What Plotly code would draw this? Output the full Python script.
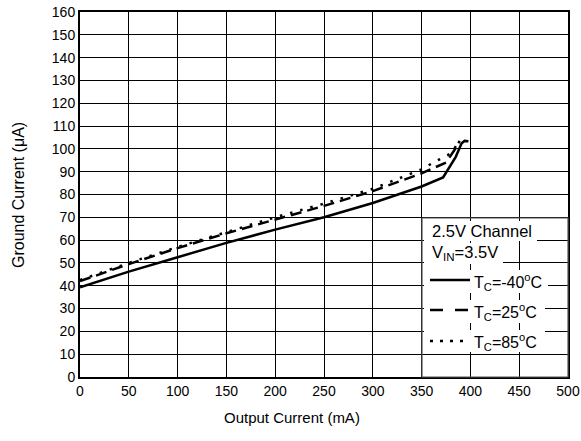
import plotly.graph_objects as go

# ---- data ----
x_m40 = [0, 50, 100, 150, 200, 250, 300, 350, 372, 385, 391, 394, 398]
y_m40 = [39.3, 46.2, 52.5, 58.8, 64.6, 70.0, 76.3, 83.5, 87.5, 96.5, 102.5, 103.5, 103.3]

x_25 = [0, 50, 100, 150, 200, 250, 300, 350, 375, 386, 389]
y_25 = [42.0, 49.5, 56.5, 63.0, 69.0, 75.0, 81.5, 89.3, 94.0, 101.0, 103.5]

x_85 = [0, 50, 100, 150, 200, 250, 300, 350, 362, 380, 388]
y_85 = [42.5, 50.0, 57.0, 63.5, 70.0, 76.0, 82.5, 91.0, 94.0, 98.0, 103.0]

x_ticks = [0, 50, 100, 150, 200, 250, 300, 350, 400, 450, 500]
y_ticks = [0, 10, 20, 30, 40, 50, 60, 70, 80, 90, 100, 110, 120, 130, 140, 150, 160]

legend_title = ["2.5V Channel", "V<sub>IN</sub>=3.5V"]
series_labels = ["T<sub>C</sub>=-40<sup>o</sup>C", "T<sub>C</sub>=25<sup>o</sup>C", "T<sub>C</sub>=85<sup>o</sup>C"]

FONT = "Liberation Sans, Arial, sans-serif"
W, H = 581, 441
L, R, T, B = 80, 13, 12, 64
PW, PH = W - L - R, H - T - B


def px(xpage):
    return (xpage - L) / PW


def py(ypage):
    return (H - B - ypage) / PH


fig = go.Figure()
fig.add_trace(go.Scatter(x=x_m40, y=y_m40, mode="lines",
                         line=dict(color="black", width=2.5), showlegend=False))
fig.add_trace(go.Scatter(x=x_25, y=y_25, mode="lines",
                         line=dict(color="black", width=2.5, dash="11px,6px"), showlegend=False))
fig.add_trace(go.Scatter(x=x_85, y=y_85, mode="lines",
                         line=dict(color="black", width=2.5, dash="2.5px,8px"), showlegend=False))

shapes = []
# legend box outline
shapes.append(dict(type="rect", xref="paper", yref="paper", x0=px(422), x1=1, y0=0, y1=py(218),
                   line=dict(color="#555555", width=1.2), fillcolor="rgba(0,0,0,0)", layer="above"))
# white backgrounds behind each legend row
rows_bg = [(424, 537, 221, 241), (424, 503, 243, 264), (424, 548, 270, 293),
           (424, 545, 300, 323), (424, 545, 330, 352)]
for x0, x1, y0, y1 in rows_bg:
    shapes.append(dict(type="rect", xref="paper", yref="paper", x0=px(x0), x1=px(x1),
                       y0=py(y1), y1=py(y0), line=dict(width=0), fillcolor="white", layer="above"))
# line samples
samples = [(280, None), (310, "13px,12px"), (341, "3px,7px")]
for ypix, dash in samples:
    ln = dict(color="black", width=2.5)
    if dash:
        ln["dash"] = dash
    shapes.append(dict(type="line", xref="paper", yref="paper", x0=px(430), x1=px(470),
                       y0=py(ypix), y1=py(ypix), line=ln, layer="above"))

annotations = []
annotations.append(dict(text=legend_title[0], x=px(430), y=py(231), xref="paper", yref="paper",
                        xanchor="left", yanchor="middle", showarrow=False,
                        font=dict(family=FONT, size=16.5, color="black")))
annotations.append(dict(text=legend_title[1], x=px(430), y=py(253), xref="paper", yref="paper",
                        xanchor="left", yanchor="middle", showarrow=False,
                        font=dict(family=FONT, size=16.5, color="black")))
for lbl, ypix in zip(series_labels, [282, 312, 342]):
    annotations.append(dict(text=lbl, x=px(472), y=py(ypix), xref="paper", yref="paper",
                            xanchor="left", yanchor="middle", showarrow=False,
                            font=dict(family=FONT, size=16, color="black")))
# axis titles
annotations.append(dict(text="Output Current (mA)", x=px(292), y=py(417), xref="paper", yref="paper",
                        xanchor="center", yanchor="middle", showarrow=False,
                        font=dict(family=FONT, size=15, color="black")))
annotations.append(dict(text="Ground Current (\u03bcA)", x=px(18), y=py(195), xref="paper", yref="paper",
                        xanchor="center", yanchor="middle", showarrow=False, textangle=-90,
                        font=dict(family=FONT, size=16, color="black")))

fig.update_layout(
    width=W, height=H,
    margin=dict(l=L, r=R, t=T, b=B, autoexpand=False),
    paper_bgcolor="white", plot_bgcolor="white",
    font=dict(family=FONT, size=14, color="black"),
    shapes=shapes, annotations=annotations,
    showlegend=False,
)
fig.update_xaxes(range=[0, 500], tickvals=x_ticks, ticktext=[str(v) for v in x_ticks],
                 showgrid=True, gridcolor="black", gridwidth=1, automargin=False,
                 showline=True, linecolor="black", linewidth=2, mirror=True,
                 ticks="", zeroline=False, tickfont=dict(size=14), ticklabeloverflow="allow")
fig.update_yaxes(range=[0, 160], tickvals=y_ticks, ticktext=[str(v) for v in y_ticks],
                 showgrid=True, gridcolor="black", gridwidth=1, automargin=False,
                 showline=True, linecolor="black", linewidth=2, mirror=True,
                 ticks="", zeroline=False, tickfont=dict(size=14), ticklabeloverflow="allow")

fig.write_html("out.html", config={"displayModeBar": False, "staticPlot": True},
               post_script="document.body.style.margin='0';document.body.style.overflow='hidden';")
